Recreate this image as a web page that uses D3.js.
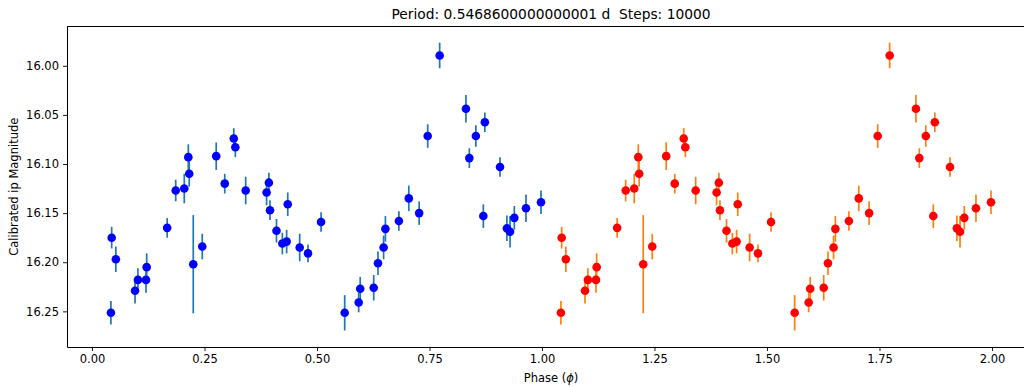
<!DOCTYPE html>
<html>
<head>
<meta charset="utf-8">
<script src="https://cdn.jsdelivr.net/npm/d3@7"></script>
<style>
  html, body { margin: 0; padding: 0; background: #fff; }
  svg { display: block; font-family: "DejaVu Sans", sans-serif; }
</style>
</head>
<body>
<div id="chart"></div>
<script>
// Folded light curve: phase, calibrated ip magnitude and 1-sigma error of each observation
const phase = [0.042, 0.0437, 0.053, 0.0956, 0.102, 0.120, 0.1215, 0.167, 0.186, 0.205,
  0.214, 0.216, 0.225, 0.245, 0.276, 0.295, 0.315, 0.3185, 0.3415, 0.388,
  0.393, 0.3955, 0.410, 0.423, 0.4325, 0.435, 0.4615, 0.480, 0.509, 0.5615,
  0.5926, 0.596, 0.626, 0.6355, 0.648, 0.652, 0.682, 0.704, 0.727, 0.746,
  0.7726, 0.831, 0.8385, 0.853, 0.8696, 0.873, 0.9067, 0.922, 0.929, 0.9385,
  0.9644, 0.9978];
const magnitude = [16.2515, 16.175, 16.197, 16.229, 16.218, 16.218, 16.205, 16.165, 16.127, 16.125,
  16.093, 16.110, 16.202, 16.184, 16.092, 16.120, 16.074, 16.083, 16.127, 16.129,
  16.119, 16.147, 16.168, 16.181, 16.179, 16.141, 16.185, 16.191, 16.159, 16.2515,
  16.241, 16.227, 16.226, 16.201, 16.185, 16.166, 16.158, 16.135, 16.150, 16.0715,
  15.9895, 16.0437, 16.094, 16.0715, 16.153, 16.0575, 16.103, 16.1655, 16.169, 16.1548,
  16.145, 16.139];
const magError = [0.012, 0.011, 0.013, 0.013, 0.012, 0.013, 0.014, 0.010, 0.011, 0.015,
  0.013, 0.013, 0.050, 0.013, 0.014, 0.010, 0.0105, 0.010, 0.014, 0.013,
  0.010, 0.010, 0.012, 0.011, 0.012, 0.012, 0.014, 0.009, 0.010, 0.018,
  0.010, 0.012, 0.013, 0.012, 0.012, 0.013, 0.010, 0.013, 0.012, 0.012,
  0.013, 0.014, 0.010, 0.011, 0.012, 0.010, 0.010, 0.013, 0.016, 0.012,
  0.014, 0.012];

// The folded curve is shown over two cycles, each with its own colours
const cycles = [
  { offset: 0, marker: "#0000ff", bar: "#1f77b4" },
  { offset: 1, marker: "#ff0000", bar: "#ff7f0e" }
];

const xTicks = [0, 0.25, 0.5, 0.75, 1.0, 1.25, 1.5, 1.75, 2.0];
const yTicks = [16.00, 16.05, 16.10, 16.15, 16.20, 16.25];

const titleText = "Period: 0.5468600000000001 d  Steps: 10000";
const yLabelText = "Calibrated ip Magnitude";

const W = 1024, H = 387;
const plot = { left: 67, right: 1035, top: 26.5, bottom: 347 };

const svg = d3.select("#chart").append("svg")
  .attr("width", W).attr("height", H);

const x = d3.scaleLinear().domain([-0.0556, 2.0956]).range([plot.left, plot.right]);
// magnitudes grow downwards: brighter is higher
const y = d3.scaleLinear().domain([15.9600, 16.2863]).range([plot.top, plot.bottom]);

const obs = phase.map((p, i) => ({ p, m: magnitude[i], e: magError[i] }));

// error bars and markers, one cycle after the other
cycles.forEach(c => {
  const g = svg.append("g");
  g.selectAll("line").data(obs).join("line")
    .attr("x1", d => x(d.p + c.offset)).attr("x2", d => x(d.p + c.offset))
    .attr("y1", d => y(d.m - d.e)).attr("y2", d => y(d.m + d.e))
    .attr("stroke", c.bar).attr("stroke-width", 1.7);
  g.selectAll("circle").data(obs).join("circle")
    .attr("cx", d => x(d.p + c.offset)).attr("cy", d => y(d.m))
    .attr("r", 4.3).attr("fill", c.marker);
});

// frame
const frame = svg.append("g").attr("fill", "none").attr("stroke", "#000").attr("stroke-width", 1);
frame.append("line").attr("x1", plot.left).attr("x2", plot.right).attr("y1", plot.top).attr("y2", plot.top);
frame.append("line").attr("x1", plot.right).attr("x2", plot.right).attr("y1", plot.top).attr("y2", plot.bottom);

const xAxis = svg.append("g")
  .attr("transform", `translate(0,${plot.bottom})`)
  .call(d3.axisBottom(x).tickValues(xTicks).tickFormat(d3.format(".2f"))
    .tickSize(4).tickSizeOuter(0).tickPadding(4));
const yAxis = svg.append("g")
  .attr("transform", `translate(${plot.left},0)`)
  .call(d3.axisLeft(y).tickValues(yTicks).tickFormat(d3.format(".2f"))
    .tickSize(4).tickSizeOuter(0).tickPadding(4));

[xAxis, yAxis].forEach(a => {
  a.select(".domain").attr("stroke", "#000").attr("stroke-width", 1);
  a.selectAll(".tick line").attr("stroke", "#000").attr("stroke-width", 0.9);
  a.selectAll(".tick text").attr("fill", "#000")
    .style("font-family", "'DejaVu Sans', sans-serif").style("font-size", "11.5px");
});

// title and axis labels
svg.append("text")
  .attr("x", (plot.left + plot.right) / 2).attr("y", 19)
  .attr("text-anchor", "middle").style("font-size", "13.8px").style("white-space", "pre")
  .attr("fill", "#000")
  .text(titleText);

const xl = svg.append("text")
  .attr("x", (plot.left + plot.right) / 2).attr("y", 382)
  .attr("text-anchor", "middle").style("font-size", "11.5px").attr("fill", "#000");
xl.append("tspan").text("Phase (");
xl.append("tspan").style("font-style", "italic").text("ϕ");
xl.append("tspan").text(")");

svg.append("text")
  .attr("transform", `translate(18,${(plot.top + plot.bottom) / 2}) rotate(-90)`)
  .attr("text-anchor", "middle").style("font-size", "11.5px").attr("fill", "#000")
  .text(yLabelText);
</script>
</body>
</html>
